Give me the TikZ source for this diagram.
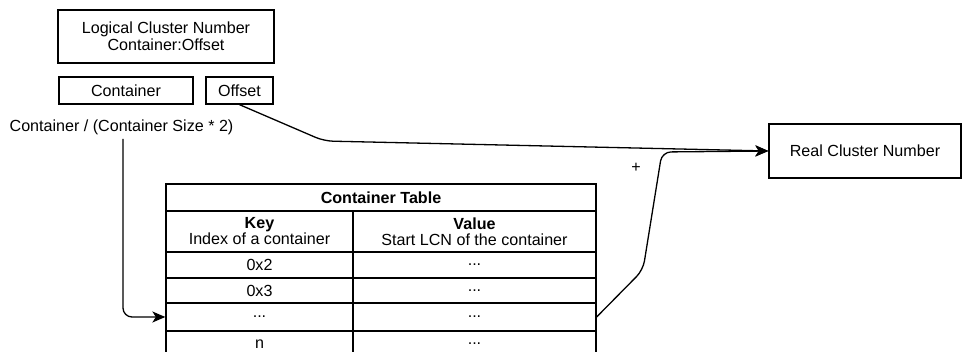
\documentclass[tikz,border=0pt]{standalone}
\usepackage{fontspec}
\setmainfont{Liberation Sans}
\usetikzlibrary{arrows.meta}
\begin{document}
\begin{tikzpicture}[x=1pt,y=-1pt,
  every node/.style={font=\fontsize{16.1}{19}\selectfont},
  box/.style={draw, line width=1.3pt, inner sep=0pt, align=center},
  cell/.style={draw, line width=1.3pt, inner sep=0pt, align=center, minimum height=#1},
  lnk/.style={line width=1.3pt, rounded corners=9pt},
  arr/.style={lnk, -{Stealth[length=13pt,width=11pt,inset=3.5pt]}}]
\useasboundingbox (0,0) rectangle (962,352);
% top boxes
\node[box, minimum width=216pt, minimum height=53pt] (lcn) at (166,36.5) {Logical Cluster Number\\[-2pt]Container:Offset};
\node[box, minimum width=134pt, minimum height=27pt] (cont) at (126,90.5) {Container};
\node[box, minimum width=67pt, minimum height=27pt] (off) at (239.5,90.5) {Offset};
\node (div) at (121.5,127) {Container / (Container Size * 2)};
\node[box, minimum width=192pt, minimum height=54pt] (real) at (865,151) {Real Cluster Number};
\node at (636,168) {+};
% table
\node[cell=27pt, minimum width=430pt] (title) at (381,197.5) {\textbf{Container Table}};
\node[cell=41pt, minimum width=187pt] (hk) at (259.5,231.5) {\textbf{Key}\\[-3pt]Index of a container};
\node[cell=41pt, minimum width=243pt] (hv) at (474.5,231.5) {\textbf{Value}\\[-3pt]Start LCN of the container};
\node[cell=26pt, minimum width=187pt] (r1k) at (259.5,265) {0x2};
\node[cell=26pt, minimum width=243pt] (r1v) at (474.5,265) {...};
\node[cell=25pt, minimum width=187pt] (r2k) at (259.5,290.5) {0x3};
\node[cell=25pt, minimum width=243pt] (r2v) at (474.5,290.5) {...};
\node[cell=28pt, minimum width=187pt] (r3k) at (259.5,317) {...};
\node[cell=28pt, minimum width=243pt] (r3v) at (474.5,317) {...};
\node[cell=26pt, minimum width=187pt] (r4k) at (259.5,344) {n};
\node[cell=26pt, minimum width=243pt] (r4v) at (474.5,344) {...};
% connectors
\coordinate (c0) at (123,139);
\draw[arr] (c0) |- (r3k.west);
\coordinate (b1) at (324,141);
\draw[arr] (off.south) -- (b1) -- (real.west);
\coordinate (b2) at (643,270);
\coordinate (b3) at (662,152);
\draw[arr] (r3v.east) -- (b2) -- (b3) -- (real.west);
\end{tikzpicture}
\end{document}
